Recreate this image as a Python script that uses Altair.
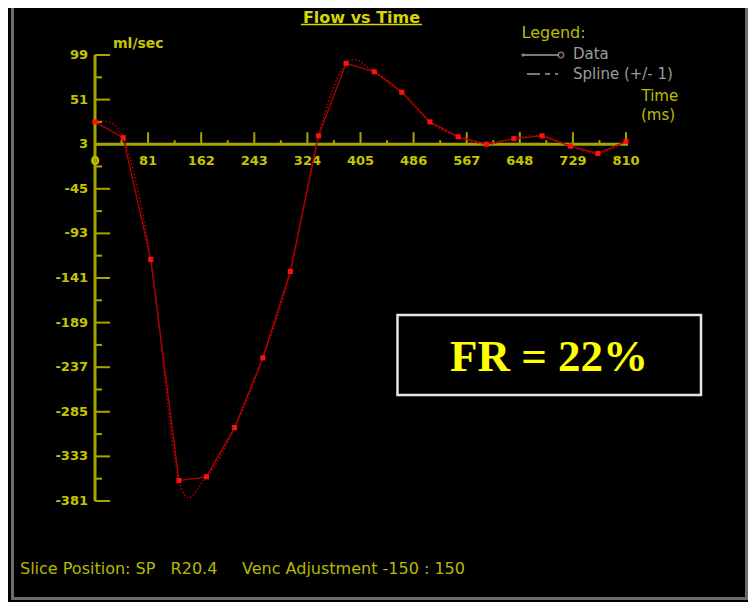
import altair as alt
import pandas as pd

# ---- data ----
time_ms = [0, 43, 85, 128, 170, 213, 256, 298, 341, 383, 426, 468, 511, 554, 597, 639, 682, 725, 767, 810]
flow = [27, 10, -121, -359, -355, -302, -227, -134, 12, 90, 81, 59, 27, 11, 3, 9, 12, 1, -7, 6]

x_major = [0, 81, 162, 243, 324, 405, 486, 567, 648, 729, 810]
x_labels = ["0", "81", "162", "243", "324", "405", "486", "567", "648", "729", "810"]
x_minor = [40.5, 121.5, 202.5, 283.5, 364.5, 445.5, 526.5, 607.5, 688.5, 769.5]
y_major = [99, 51, 3, -45, -93, -141, -189, -237, -285, -333, -381]
y_labels = ["99", "51", "3", "-45", "-93", "-141", "-189", "-237", "-285", "-333", "-381"]
y_minor = [75, 27, -21, -69, -117, -165, -213, -261, -309, -357]

AX = "#a6a600"
LAB = "#c4c400"
FONT = "DejaVu Sans"

xs = alt.Scale(domain=[0, 810], nice=False, zero=False)
ys = alt.Scale(domain=[-381, 99], nice=False, zero=False)

def X(f):
    return alt.X(f, type="quantitative", scale=xs, axis=None)

def Y(f):
    return alt.Y(f, type="quantitative", scale=ys, axis=None)

one = pd.DataFrame({"k": [0]})

layers = []

# outer frame
layers.append(alt.Chart(one).mark_rect(fill="#000000", fillOpacity=0, stroke="#6c6c6c", strokeWidth=3).encode(
    x=alt.value(-82.5), x2=alt.value(651.5), y=alt.value(-70), y2=alt.value(543.5)))

# FR box
layers.append(alt.Chart(one).mark_rect(fill="#000000", stroke="#e6e6e6", strokeWidth=2.5).encode(
    x=alt.value(302.5), x2=alt.value(606), y=alt.value(260), y2=alt.value(340)))
layers.append(alt.Chart(one).mark_text(font="Liberation Serif", fontWeight="bold", fontSize=45,
                                       color="#ffff00", align="center", baseline="alphabetic").encode(
    x=alt.value(454), y=alt.value(316), text=alt.value("FR = 22%")))

# axes lines
xaxis_df = pd.DataFrame({"a": [0], "b": [810], "y0": [3]})
layers.append(alt.Chart(xaxis_df).mark_rule(color=AX, strokeWidth=3, x2Offset=2).encode(
    x=X("a"), x2="b:Q", y=Y("y0")))
yaxis_df = pd.DataFrame({"x0": [0], "top": [99], "bot": [-381]})
layers.append(alt.Chart(yaxis_df).mark_rule(color=AX, strokeWidth=3).encode(
    x=X("x0"), y=Y("top"), y2="bot:Q"))

# ticks
ymaj = pd.DataFrame({"v": y_major, "x0": 0, "lab": y_labels})
ymin = pd.DataFrame({"v": y_minor, "x0": 0})
xmaj = pd.DataFrame({"t": x_major, "y0": 3, "lab": x_labels})
xmin = pd.DataFrame({"t": x_minor, "y0": 3})
layers.append(alt.Chart(ymaj).mark_rule(color=AX, strokeWidth=2, x2Offset=15).encode(
    x=X("x0"), x2="x0:Q", y=Y("v")))
layers.append(alt.Chart(ymin).mark_rule(color=AX, strokeWidth=2, x2Offset=7).encode(
    x=X("x0"), x2="x0:Q", y=Y("v")))
layers.append(alt.Chart(xmaj).mark_rule(color=AX, strokeWidth=2, y2Offset=-12).encode(
    x=X("t"), y=Y("y0"), y2="y0:Q"))
layers.append(alt.Chart(xmin).mark_rule(color=AX, strokeWidth=2, y2Offset=-4).encode(
    x=X("t"), y=Y("y0"), y2="y0:Q"))

# tick labels
layers.append(alt.Chart(ymaj).mark_text(font=FONT, fontSize=13, fontWeight="bold", color=LAB,
                                        align="right", baseline="middle", dx=-7).encode(
    x=X("x0"), y=Y("v"), text="lab:N"))
layers.append(alt.Chart(xmaj).mark_text(font=FONT, fontSize=13, fontWeight="bold", color=LAB,
                                        align="center", baseline="middle", dy=17).encode(
    x=X("t"), y=Y("y0"), text="lab:N"))

# data
df = pd.DataFrame({"t": time_ms, "f": flow})
layers.append(alt.Chart(df).mark_line(color="#b00000", strokeWidth=1.5, interpolate="cardinal",
                                      strokeDash=[1.5, 2]).encode(x=X("t"), y=Y("f")))
layers.append(alt.Chart(df).mark_line(color="#b40000", strokeWidth=1.3).encode(x=X("t"), y=Y("f")))
layers.append(alt.Chart(df).mark_square(color="#ff1010", size=26, opacity=1).encode(x=X("t"), y=Y("f")))

# title
layers.append(alt.Chart(one).mark_text(font=FONT, fontSize=16, fontWeight="bold", color="#d6d600",
                                       align="center", baseline="alphabetic").encode(
    x=alt.value(266.5), y=alt.value(-32.5), text=alt.value("Flow vs Time")))
layers.append(alt.Chart(one).mark_rule(color="#d6d600", strokeWidth=1.5).encode(
    x=alt.value(206), x2=alt.value(327), y=alt.value(-30.5)))

# unit label
layers.append(alt.Chart(one).mark_text(font=FONT, fontSize=14, fontWeight="bold", color=LAB,
                                       align="left", baseline="alphabetic").encode(
    x=alt.value(18), y=alt.value(-7), text=alt.value("ml/sec")))

# legend
layers.append(alt.Chart(one).mark_text(font=FONT, fontSize=16, color="#bcbc00",
                                       align="left", baseline="middle").encode(
    x=alt.value(426.5), y=alt.value(-22.5), text=alt.value("Legend:")))
layers.append(alt.Chart(one).mark_rule(color="#a0a0a0", strokeWidth=1.5).encode(
    x=alt.value(428), x2=alt.value(464), y=alt.value(0)))
layers.append(alt.Chart(one).mark_point(shape="circle", filled=True, color="#a0a0a0", size=12).encode(
    x=alt.value(428), y=alt.value(0)))
layers.append(alt.Chart(one).mark_point(shape="circle", filled=False, color="#a0a0a0", size=30, strokeWidth=1.5).encode(
    x=alt.value(466), y=alt.value(0)))
layers.append(alt.Chart(one).mark_rule(color="#a0a0a0", strokeWidth=1.5, strokeDash=[13, 5, 5, 5]).encode(
    x=alt.value(432), x2=alt.value(463), y=alt.value(19)))
layers.append(alt.Chart(one).mark_text(font=FONT, fontSize=15, color="#9c9c9c",
                                       align="left", baseline="middle").encode(
    x=alt.value(478), y=alt.value(-1), text=alt.value("Data")))
layers.append(alt.Chart(one).mark_text(font=FONT, fontSize=15, color="#9c9c9c",
                                       align="left", baseline="middle").encode(
    x=alt.value(478), y=alt.value(19), text=alt.value("Spline (+/- 1)")))
layers.append(alt.Chart(one).mark_text(font=FONT, fontSize=15, color="#bcbc00",
                                       align="left", baseline="middle").encode(
    x=alt.value(546.5), y=alt.value(40.5), text=alt.value("Time")))
layers.append(alt.Chart(one).mark_text(font=FONT, fontSize=15, color="#bcbc00",
                                       align="left", baseline="middle").encode(
    x=alt.value(546), y=alt.value(60), text=alt.value("(ms)")))

# bottom info text
layers.append(alt.Chart(one).mark_text(font=FONT, fontSize=16, color="#b8b800",
                                       align="left", baseline="middle").encode(
    x=alt.value(-75), y=alt.value(514), text=alt.value("Slice Position: SP\u00a0\u00a0 R20.4")))
layers.append(alt.Chart(one).mark_text(font=FONT, fontSize=16, color="#b8b800",
                                       align="left", baseline="middle").encode(
    x=alt.value(147), y=alt.value(514), text=alt.value("Venc Adjustment -150 : 150")))

chart = alt.layer(*layers).properties(
    width=531,
    height=446,
    autosize=alt.AutoSizeParams(type="none"),
    padding={"left": 87, "top": 47, "right": 122, "bottom": 101},
    background="#000000",
).configure_view(strokeWidth=0)

chart.save("out.html", embed_options={"renderer": "svg", "actions": False})
